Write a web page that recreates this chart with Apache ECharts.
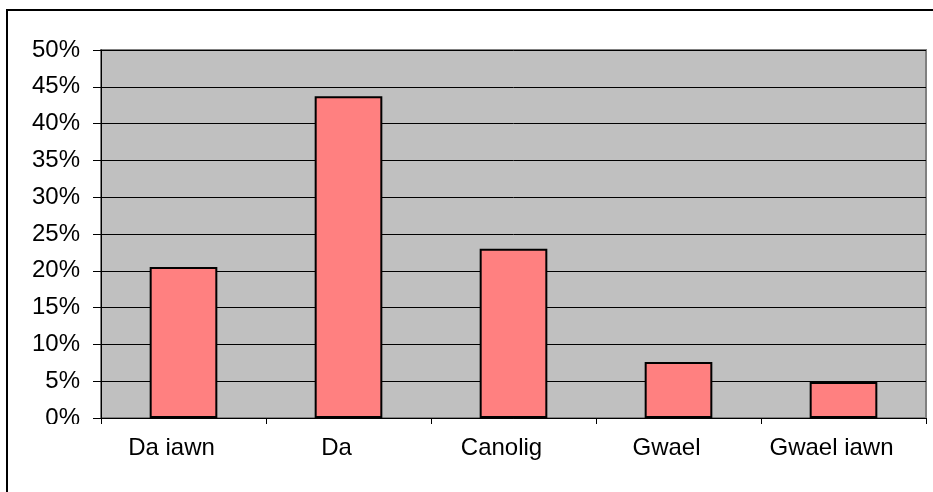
<!DOCTYPE html>
<html>
<head>
<meta charset="utf-8">
<script src="https://cdn.jsdelivr.net/npm/echarts@6/dist/echarts.min.js"></script>
<style>
html,body{margin:0;padding:0;background:#fff;}
#chart{width:933px;height:492px;}
</style>
</head>
<body>
<div id="chart"></div>
<script>
var categories = ['Da iawn', 'Da', 'Canolig', 'Gwael', 'Gwael iawn'];
var values = [0.205, 0.437, 0.230, 0.076, 0.049];
var yTicks = { min: 0, max: 0.5, interval: 0.05 };

var chart = echarts.init(document.getElementById('chart'), null, {renderer: 'canvas'});
var font = '"Liberation Sans", Arial, sans-serif';
chart.setOption({
  animation: false,
  backgroundColor: '#ffffff',
  graphic: [{
    type: 'rect',
    z: 100,
    shape: { x: 7, y: 10, width: 940, height: 500 },
    style: { fill: 'none', stroke: '#000', lineWidth: 2 }
  }, {
    type: 'rect',
    z: 99,
    shape: { x: 12, y: 424, width: 84, height: 14 },
    style: { fill: '#fff' }
  }],
  grid: {
    left: 101, right: 7, top: 50, bottom: 74,
    show: true,
    backgroundColor: '#c0c0c0',
    borderColor: '#808080',
    borderWidth: 2
  },
  xAxis: {
    type: 'category',
    data: categories,
    axisLine: { show: true, lineStyle: { color: '#000', width: 1 } },
    axisTick: { show: true, alignWithLabel: false, length: 6, lineStyle: { color: '#000' } },
    axisLabel: { color: '#000', fontSize: 24, fontFamily: font, margin: 18, padding: [0, 24, 0, 0] },
    splitLine: { show: false }
  },
  yAxis: {
    type: 'value',
    min: yTicks.min, max: yTicks.max, interval: yTicks.interval,
    axisLine: { show: true, lineStyle: { color: '#000', width: 1 } },
    axisTick: { show: true, inside: false, length: 8, lineStyle: { color: '#000' } },
    axisLabel: {
      color: '#000', fontSize: 24, fontFamily: font, margin: 21,
      formatter: function (v) { return Math.round(v * 100) + '%'; }
    },
    splitLine: { show: true, lineStyle: { color: '#000', width: 1 } }
  },
  series: [{
    type: 'bar',
    data: values,
    barWidth: '41%',
    itemStyle: { color: '#ff8080', borderColor: '#000', borderWidth: 2 }
  }]
});
</script>
</body>
</html>
